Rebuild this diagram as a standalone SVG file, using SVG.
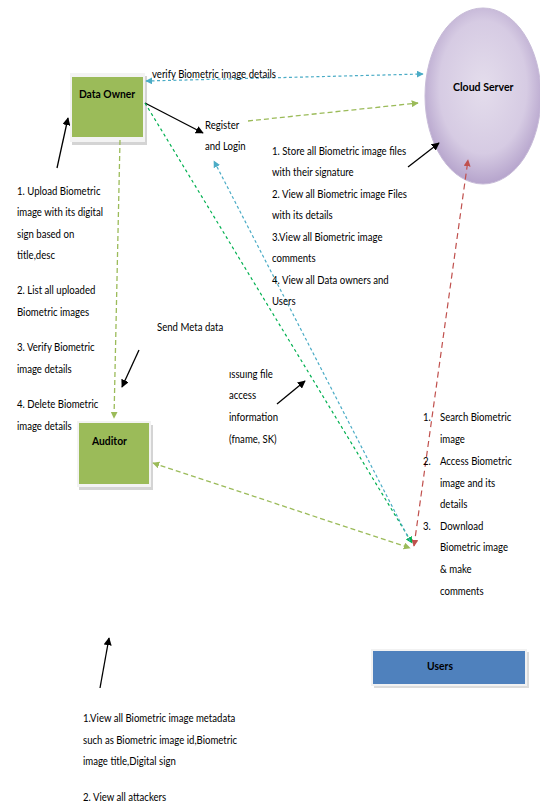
<svg xmlns="http://www.w3.org/2000/svg" width="540" height="806" viewBox="0 0 540 806">
<defs>
<radialGradient id="cloudGrad" cx="0.5" cy="0.45" r="0.58">
<stop offset="0" stop-color="#e4ddec"/>
<stop offset="0.65" stop-color="#d6cbe3"/>
<stop offset="1" stop-color="#b09dc8"/>
</radialGradient>
<marker id="ahBlack" viewBox="0 0 10 10" refX="9" refY="5" markerWidth="8" markerHeight="8" markerUnits="userSpaceOnUse" orient="auto-start-reverse"><path d="M0,0 L10,5 L0,10 z" fill="#000"/></marker>
<marker id="ahBlue" viewBox="0 0 10 10" refX="9" refY="5" markerWidth="7" markerHeight="7" markerUnits="userSpaceOnUse" orient="auto-start-reverse"><path d="M0,0 L10,5 L0,10 z" fill="#4bacc6"/></marker>
<marker id="ahLGreen" viewBox="0 0 10 10" refX="9" refY="5" markerWidth="7" markerHeight="7" markerUnits="userSpaceOnUse" orient="auto-start-reverse"><path d="M0,0 L10,5 L0,10 z" fill="#9bbb59"/></marker>
<marker id="ahDGreen" viewBox="0 0 10 10" refX="9" refY="5" markerWidth="7" markerHeight="7" markerUnits="userSpaceOnUse" orient="auto-start-reverse"><path d="M0,0 L10,5 L0,10 z" fill="#00b050"/></marker>
<marker id="ahRed" viewBox="0 0 10 10" refX="9" refY="5" markerWidth="7" markerHeight="7" markerUnits="userSpaceOnUse" orient="auto-start-reverse"><path d="M0,0 L10,5 L0,10 z" fill="#c0504d"/></marker>
</defs>
<style>
text { font-family: Lato, "Liberation Sans", sans-serif; font-size: 12px; fill: #000; }
.title { font-weight: bold; }
.black { stroke: #000; stroke-width: 1.3; fill: none; marker-end: url(#ahBlack); }
.blue { stroke: #4bacc6; stroke-width: 1.2; fill: none; stroke-dasharray: 3 2.5; }
.lgreen { stroke: #9bbb59; stroke-width: 1.3; fill: none; stroke-dasharray: 5 3; }
.dgreen { stroke: #00b050; stroke-width: 1.2; fill: none; stroke-dasharray: 3 3; }
.red { stroke: #c0504d; stroke-width: 1.2; fill: none; stroke-dasharray: 6 4; }
.shadow { fill: #d4d4d4; }
.frame { fill: #f3f3f3; }
.green { fill: #9bbb59; }
</style>
<rect width="540" height="806" fill="#fff"/>

<g id="data-owner">
<rect class="shadow" x="72" y="76" width="75" height="69"/>
<rect class="frame" x="70" y="73" width="75" height="69"/>
<rect class="green" x="72" y="77" width="71" height="60"/>
<g transform="translate(107 0) scale(0.86 1)"><text class="title" x="0" y="98" text-anchor="middle">Data Owner</text></g>
</g>

<g id="cloud-server">
<ellipse cx="483" cy="96" rx="58" ry="88" fill="url(#cloudGrad)" stroke="#c8bcd8" stroke-width="1"/>
<g transform="translate(453 0) scale(0.88 1)"><text class="title" x="0" y="91">Cloud  Server</text></g>
</g>

<g id="auditor">
<rect class="shadow" x="79" y="425" width="74" height="65"/>
<rect class="frame" x="77" y="421" width="74" height="66"/>
<rect class="green" x="79" y="423" width="70" height="61"/>
<g transform="translate(92 0) scale(0.86 1)"><text class="title" x="0" y="445">Auditor</text></g>
</g>

<g id="users">
<rect fill="#dcdcdc" x="374" y="652" width="155" height="36"/>
<rect fill="#f2f2f2" x="371" y="649" width="156" height="37"/>
<rect fill="#4f81bd" x="373" y="651" width="152" height="33"/>
<g transform="translate(440 0) scale(0.86 1)"><text class="title" x="0" y="670" text-anchor="middle">Users</text></g>
</g>

<g id="connectors">
<line class="blue" x1="146" y1="81" x2="423" y2="74" marker-start="url(#ahBlue)" marker-end="url(#ahBlue)"/>
<line class="lgreen" x1="248" y1="121" x2="418" y2="103" marker-end="url(#ahLGreen)"/>
<line class="black" x1="145" y1="103" x2="203" y2="133"/>
<line class="black" x1="408" y1="167" x2="439" y2="143"/>
<line class="red" x1="414" y1="546" x2="468" y2="160" marker-start="url(#ahRed)" marker-end="url(#ahRed)"/>
<line class="dgreen" x1="145" y1="103" x2="412" y2="543" marker-end="url(#ahDGreen)"/>
<line class="blue" x1="410" y1="541" x2="214" y2="161" marker-end="url(#ahBlue)"/>
<line class="lgreen" x1="153" y1="463" x2="410" y2="548" marker-start="url(#ahLGreen)" marker-end="url(#ahLGreen)"/>
<line class="lgreen" x1="120" y1="140" x2="114" y2="418" marker-end="url(#ahLGreen)"/>
<line class="black" x1="57" y1="168" x2="68" y2="118"/>
<line class="black" x1="139" y1="350" x2="122" y2="387"/>
<line class="black" x1="277" y1="404" x2="305" y2="381"/>
<line class="black" x1="100" y1="688" x2="109" y2="638"/>
</g>

<g id="labels">
<g transform="translate(152 0) scale(0.8 1)"><text x="0" y="78">verify Biometric image details</text></g>
<g transform="translate(205 0) scale(0.8 1)">
<text x="0" y="129">Register</text>
<text x="0" y="150">and Login</text>
</g>

<g transform="translate(17 0) scale(0.8 1)">
<text x="0" y="195">1. Upload Biometric</text>
<text x="0" y="216.5">image with its digital</text>
<text x="0" y="238">sign based on</text>
<text x="0" y="259.5">title,desc</text>
<text x="0" y="294.5">2. List all uploaded</text>
<text x="0" y="316">Biometric images</text>
<text x="0" y="351.5">3. Verify Biometric</text>
<text x="0" y="373">image details</text>
<text x="0" y="408.5">4. Delete Biometric</text>
<text x="0" y="430">image details</text>
</g>

<g transform="translate(272 0) scale(0.8 1)">
<text x="0" y="155">1. Store all Biometric image files</text>
<text x="0" y="176.5">with their signature</text>
<text x="0" y="198">2. View all Biometric image Files</text>
<text x="0" y="219.5">with its details</text>
<text x="0" y="241">3.View all Biometric image</text>
<text x="0" y="262.5">comments</text>
<text x="0" y="284">4. View all Data owners and</text>
<text x="0" y="305.5">Users</text>
</g>

<g transform="translate(157 0) scale(0.8 1)"><text x="0" y="331">Send Meta data</text></g>

<g transform="translate(229 0) scale(0.8 1)">
<text x="0" y="378">ıssuıng file</text>
<text x="0" y="399">access</text>
<text x="0" y="421">information</text>
<text x="0" y="443">(fname, SK)</text>
</g>

<g transform="translate(423 0) scale(0.8 1)">
<text x="0" y="421">1.</text>
<text x="0" y="465">2.</text>
<text x="0" y="530">3.</text>
</g>
<g transform="translate(440 0) scale(0.8 1)">
<text x="0" y="421">Search Biometric</text>
<text x="0" y="443">image</text>
<text x="0" y="465">Access Biometric</text>
<text x="0" y="487">image and its</text>
<text x="0" y="508">details</text>
<text x="0" y="530">Download</text>
<text x="0" y="551">Biometric image</text>
<text x="0" y="573">&amp; make</text>
<text x="0" y="595">comments</text>
</g>

<g transform="translate(83 0) scale(0.8 1)">
<text x="0" y="722">1.View all Biometric image metadata</text>
<text x="0" y="744">such as Biometric image id,Biometric</text>
<text x="0" y="765">image title,Digital sign</text>
<text x="0" y="801">2. View all attackers</text>
</g>
</g>
</svg>
